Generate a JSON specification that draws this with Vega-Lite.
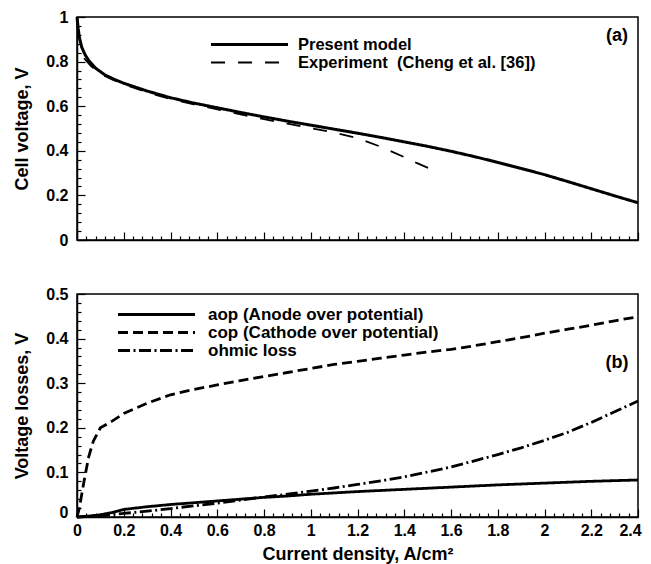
{
  "$schema": "https://vega.github.io/schema/vega-lite/v6.json",
  "background": "white",
  "padding": {"left": 13, "top": 8, "right": 4, "bottom": 0},
  "spacing": 36,
  "resolve": {"scale": {"strokeDash": "independent", "strokeWidth": "independent"}, "legend": {"strokeDash": "independent", "strokeWidth": "independent"}},
  "config": {
    "font": "Liberation Sans",
    "view": {"stroke": "black", "strokeWidth": 1.5},
    "axis": {
      "domainColor": "black", "domainWidth": 1.5, "tickColor": "black", "tickWidth": 1.2,
      "labelColor": "black", "labelFont": "Liberation Sans", "labelFontWeight": "bold", "labelFontSize": 16,
      "titleColor": "black", "titleFont": "Liberation Sans", "titleFontWeight": "bold", "titleFontSize": 18,
      "grid": false, "labelOverlap": false, "labelBound": false, "labelFlush": false, "tickCount": 200
    },
    "axisY": {"labelPadding": 17, "titlePadding": 14},
    "axisX": {"labelPadding": 13, "titlePadding": 3},
    "legend": {
      "labelFont": "Liberation Sans", "labelFontWeight": "bold", "labelFontSize": 16.5, "labelColor": "black", "labelLimit": 400,
      "symbolType": "M-5,0H5", "symbolStrokeColor": "black", "symbolSize": 237, "padding": 0
    }
  },
  "datasets": {
    "perf": [
      {"current": 0, "voltage": 1.0, "series": "Present model"},
      {"current": 0.005, "voltage": 0.95, "series": "Present model"},
      {"current": 0.01, "voltage": 0.91, "series": "Present model"},
      {"current": 0.02, "voltage": 0.865, "series": "Present model"},
      {"current": 0.035, "voltage": 0.83, "series": "Present model"},
      {"current": 0.05, "voltage": 0.805, "series": "Present model"},
      {"current": 0.08, "voltage": 0.77, "series": "Present model"},
      {"current": 0.12, "voltage": 0.74, "series": "Present model"},
      {"current": 0.16, "voltage": 0.72, "series": "Present model"},
      {"current": 0.2, "voltage": 0.703, "series": "Present model"},
      {"current": 0.3, "voltage": 0.668, "series": "Present model"},
      {"current": 0.4, "voltage": 0.638, "series": "Present model"},
      {"current": 0.5, "voltage": 0.614, "series": "Present model"},
      {"current": 0.6, "voltage": 0.593, "series": "Present model"},
      {"current": 0.7, "voltage": 0.572, "series": "Present model"},
      {"current": 0.8, "voltage": 0.552, "series": "Present model"},
      {"current": 0.9, "voltage": 0.533, "series": "Present model"},
      {"current": 1.0, "voltage": 0.515, "series": "Present model"},
      {"current": 1.1, "voltage": 0.497, "series": "Present model"},
      {"current": 1.2, "voltage": 0.479, "series": "Present model"},
      {"current": 1.3, "voltage": 0.46, "series": "Present model"},
      {"current": 1.4, "voltage": 0.44, "series": "Present model"},
      {"current": 1.5, "voltage": 0.42, "series": "Present model"},
      {"current": 1.6, "voltage": 0.398, "series": "Present model"},
      {"current": 1.7, "voltage": 0.374, "series": "Present model"},
      {"current": 1.8, "voltage": 0.348, "series": "Present model"},
      {"current": 1.9, "voltage": 0.321, "series": "Present model"},
      {"current": 2.0, "voltage": 0.293, "series": "Present model"},
      {"current": 2.1, "voltage": 0.262, "series": "Present model"},
      {"current": 2.2, "voltage": 0.23, "series": "Present model"},
      {"current": 2.3, "voltage": 0.198, "series": "Present model"},
      {"current": 2.4, "voltage": 0.167, "series": "Present model"},
      {"current": 0.03, "voltage": 0.815, "series": "Experiment \u00a0(Cheng et al. [36])"},
      {"current": 0.06, "voltage": 0.78, "series": "Experiment \u00a0(Cheng et al. [36])"},
      {"current": 0.1, "voltage": 0.745, "series": "Experiment \u00a0(Cheng et al. [36])"},
      {"current": 0.15, "voltage": 0.72, "series": "Experiment \u00a0(Cheng et al. [36])"},
      {"current": 0.2, "voltage": 0.698, "series": "Experiment \u00a0(Cheng et al. [36])"},
      {"current": 0.3, "voltage": 0.662, "series": "Experiment \u00a0(Cheng et al. [36])"},
      {"current": 0.4, "voltage": 0.632, "series": "Experiment \u00a0(Cheng et al. [36])"},
      {"current": 0.5, "voltage": 0.608, "series": "Experiment \u00a0(Cheng et al. [36])"},
      {"current": 0.6, "voltage": 0.586, "series": "Experiment \u00a0(Cheng et al. [36])"},
      {"current": 0.7, "voltage": 0.563, "series": "Experiment \u00a0(Cheng et al. [36])"},
      {"current": 0.8, "voltage": 0.542, "series": "Experiment \u00a0(Cheng et al. [36])"},
      {"current": 0.9, "voltage": 0.522, "series": "Experiment \u00a0(Cheng et al. [36])"},
      {"current": 1.0, "voltage": 0.502, "series": "Experiment \u00a0(Cheng et al. [36])"},
      {"current": 1.1, "voltage": 0.482, "series": "Experiment \u00a0(Cheng et al. [36])"},
      {"current": 1.2, "voltage": 0.457, "series": "Experiment \u00a0(Cheng et al. [36])"},
      {"current": 1.3, "voltage": 0.418, "series": "Experiment \u00a0(Cheng et al. [36])"},
      {"current": 1.4, "voltage": 0.372, "series": "Experiment \u00a0(Cheng et al. [36])"},
      {"current": 1.45, "voltage": 0.347, "series": "Experiment \u00a0(Cheng et al. [36])"},
      {"current": 1.52, "voltage": 0.315, "series": "Experiment \u00a0(Cheng et al. [36])"}
    ],
    "loss": [
      {"current": 0, "loss": 0, "series": "aop (Anode over potential)"},
      {"current": 0.05, "loss": 0.002, "series": "aop (Anode over potential)"},
      {"current": 0.1, "loss": 0.005, "series": "aop (Anode over potential)"},
      {"current": 0.15, "loss": 0.01, "series": "aop (Anode over potential)"},
      {"current": 0.2, "loss": 0.017, "series": "aop (Anode over potential)"},
      {"current": 0.3, "loss": 0.023, "series": "aop (Anode over potential)"},
      {"current": 0.4, "loss": 0.028, "series": "aop (Anode over potential)"},
      {"current": 0.5, "loss": 0.032, "series": "aop (Anode over potential)"},
      {"current": 0.6, "loss": 0.036, "series": "aop (Anode over potential)"},
      {"current": 0.7, "loss": 0.04, "series": "aop (Anode over potential)"},
      {"current": 0.8, "loss": 0.044, "series": "aop (Anode over potential)"},
      {"current": 0.9, "loss": 0.047, "series": "aop (Anode over potential)"},
      {"current": 1.0, "loss": 0.051, "series": "aop (Anode over potential)"},
      {"current": 1.2, "loss": 0.057, "series": "aop (Anode over potential)"},
      {"current": 1.4, "loss": 0.062, "series": "aop (Anode over potential)"},
      {"current": 1.6, "loss": 0.067, "series": "aop (Anode over potential)"},
      {"current": 1.8, "loss": 0.072, "series": "aop (Anode over potential)"},
      {"current": 2.0, "loss": 0.076, "series": "aop (Anode over potential)"},
      {"current": 2.2, "loss": 0.08, "series": "aop (Anode over potential)"},
      {"current": 2.4, "loss": 0.083, "series": "aop (Anode over potential)"},
      {"current": 0, "loss": 0, "series": "cop (Cathode over potential)"},
      {"current": 0.01, "loss": 0.02, "series": "cop (Cathode over potential)"},
      {"current": 0.03, "loss": 0.08, "series": "cop (Cathode over potential)"},
      {"current": 0.05, "loss": 0.135, "series": "cop (Cathode over potential)"},
      {"current": 0.07, "loss": 0.17, "series": "cop (Cathode over potential)"},
      {"current": 0.1, "loss": 0.2, "series": "cop (Cathode over potential)"},
      {"current": 0.15, "loss": 0.215, "series": "cop (Cathode over potential)"},
      {"current": 0.2, "loss": 0.232, "series": "cop (Cathode over potential)"},
      {"current": 0.3, "loss": 0.255, "series": "cop (Cathode over potential)"},
      {"current": 0.4, "loss": 0.274, "series": "cop (Cathode over potential)"},
      {"current": 0.5, "loss": 0.286, "series": "cop (Cathode over potential)"},
      {"current": 0.6, "loss": 0.296, "series": "cop (Cathode over potential)"},
      {"current": 0.7, "loss": 0.306, "series": "cop (Cathode over potential)"},
      {"current": 0.8, "loss": 0.315, "series": "cop (Cathode over potential)"},
      {"current": 0.9, "loss": 0.324, "series": "cop (Cathode over potential)"},
      {"current": 1.0, "loss": 0.333, "series": "cop (Cathode over potential)"},
      {"current": 1.1, "loss": 0.342, "series": "cop (Cathode over potential)"},
      {"current": 1.2, "loss": 0.349, "series": "cop (Cathode over potential)"},
      {"current": 1.3, "loss": 0.356, "series": "cop (Cathode over potential)"},
      {"current": 1.4, "loss": 0.363, "series": "cop (Cathode over potential)"},
      {"current": 1.5, "loss": 0.37, "series": "cop (Cathode over potential)"},
      {"current": 1.6, "loss": 0.376, "series": "cop (Cathode over potential)"},
      {"current": 1.7, "loss": 0.384, "series": "cop (Cathode over potential)"},
      {"current": 1.8, "loss": 0.393, "series": "cop (Cathode over potential)"},
      {"current": 1.9, "loss": 0.402, "series": "cop (Cathode over potential)"},
      {"current": 2.0, "loss": 0.412, "series": "cop (Cathode over potential)"},
      {"current": 2.1, "loss": 0.421, "series": "cop (Cathode over potential)"},
      {"current": 2.2, "loss": 0.43, "series": "cop (Cathode over potential)"},
      {"current": 2.3, "loss": 0.44, "series": "cop (Cathode over potential)"},
      {"current": 2.4, "loss": 0.449, "series": "cop (Cathode over potential)"},
      {"current": 0, "loss": 0, "series": "ohmic loss"},
      {"current": 0.1, "loss": 0.003, "series": "ohmic loss"},
      {"current": 0.2, "loss": 0.008, "series": "ohmic loss"},
      {"current": 0.3, "loss": 0.013, "series": "ohmic loss"},
      {"current": 0.4, "loss": 0.019, "series": "ohmic loss"},
      {"current": 0.5, "loss": 0.025, "series": "ohmic loss"},
      {"current": 0.6, "loss": 0.031, "series": "ohmic loss"},
      {"current": 0.7, "loss": 0.038, "series": "ohmic loss"},
      {"current": 0.8, "loss": 0.045, "series": "ohmic loss"},
      {"current": 0.9, "loss": 0.051, "series": "ohmic loss"},
      {"current": 1.0, "loss": 0.058, "series": "ohmic loss"},
      {"current": 1.1, "loss": 0.065, "series": "ohmic loss"},
      {"current": 1.2, "loss": 0.073, "series": "ohmic loss"},
      {"current": 1.3, "loss": 0.081, "series": "ohmic loss"},
      {"current": 1.4, "loss": 0.09, "series": "ohmic loss"},
      {"current": 1.5, "loss": 0.101, "series": "ohmic loss"},
      {"current": 1.6, "loss": 0.112, "series": "ohmic loss"},
      {"current": 1.7, "loss": 0.126, "series": "ohmic loss"},
      {"current": 1.8, "loss": 0.14, "series": "ohmic loss"},
      {"current": 1.9, "loss": 0.155, "series": "ohmic loss"},
      {"current": 2.0, "loss": 0.172, "series": "ohmic loss"},
      {"current": 2.1, "loss": 0.19, "series": "ohmic loss"},
      {"current": 2.2, "loss": 0.212, "series": "ohmic loss"},
      {"current": 2.3, "loss": 0.236, "series": "ohmic loss"},
      {"current": 2.4, "loss": 0.26, "series": "ohmic loss"}
    ]
  },
  "vconcat": [
    {
      "width": 561,
      "height": 223,
      "layer": [
        {
          "data": {"name": "perf"},
          "mark": {"type": "line", "color": "black"},
          "encoding": {
            "x": {
              "field": "current", "type": "quantitative",
              "scale": {"domain": [0, 2.4], "nice": false, "zero": false},
              "axis": {
                "title": null, "labels": false, "tickCount": 200,
                "values": [0,0.04,0.08,0.12,0.16,0.2,0.24,0.28,0.32,0.36,0.4,0.44,0.48,0.52,0.56,0.6,0.64,0.68,0.72,0.76,0.8,0.84,0.88,0.92,0.96,1,1.04,1.08,1.12,1.16,1.2,1.24,1.28,1.32,1.36,1.4,1.44,1.48,1.52,1.56,1.6,1.64,1.68,1.72,1.76,1.8,1.84,1.88,1.92,1.96,2,2.04,2.08,2.12,2.16,2.2,2.24,2.28,2.32,2.36,2.4],
                "tickSize": {"condition": {"test": "abs(datum.value*5 - round(datum.value*5)) < 0.001", "value": -8}, "value": -4}
              }
            },
            "y": {
              "field": "voltage", "type": "quantitative",
              "scale": {"domain": [0, 1], "nice": false},
              "axis": {
                "title": "Cell voltage, V", "tickCount": 200,
                "values": [0,0.04,0.08,0.12,0.16,0.2,0.24,0.28,0.32,0.36,0.4,0.44,0.48,0.52,0.56,0.6,0.64,0.68,0.72,0.76,0.8,0.84,0.88,0.92,0.96,1],
                "labelExpr": "abs(datum.value*5 - round(datum.value*5)) < 0.001 ? format(datum.value, '~g') : ''",
                "tickSize": {"condition": {"test": "abs(datum.value*5 - round(datum.value*5)) < 0.001", "value": -8}, "value": -4}
              }
            },
            "strokeDash": {
              "field": "series", "type": "nominal",
              "scale": {"domain": ["Present model", "Experiment \u00a0(Cheng et al. [36])"], "range": [[1, 0], [14, 13]]},
              "legend": {"title": null, "orient": "none", "legendX": 163, "legendY": 18, "rowPadding": 0.5, "labelOffset": 39}
            },
            "strokeWidth": {
              "field": "series", "type": "nominal",
              "scale": {"domain": ["Present model", "Experiment \u00a0(Cheng et al. [36])"], "range": [3, 1.8]},
              "legend": {"title": null, "orient": "none", "legendX": 163, "legendY": 18, "rowPadding": 0.5, "labelOffset": 39}
            }
          }
        },
        {
          "data": {"values": [{"current": 2.31, "voltage": 0.915, "label": "(a)"}]},
          "mark": {"type": "text", "font": "Liberation Sans", "fontSize": 18, "fontWeight": "bold", "color": "black"},
          "encoding": {
            "x": {"field": "current", "type": "quantitative"},
            "y": {"field": "voltage", "type": "quantitative"},
            "text": {"field": "label"}
          }
        }
      ]
    },
    {
      "width": 561,
      "height": 223,
      "layer": [
        {
          "data": {"name": "loss"},
          "mark": {"type": "line", "color": "black", "strokeWidth": 2.8},
          "encoding": {
            "x": {
              "field": "current", "type": "quantitative",
              "scale": {"domain": [0, 2.4], "nice": false, "zero": false},
              "axis": {
                "title": "Current density, A/cm²", "tickCount": 200,
                "values": [0,0.04,0.08,0.12,0.16,0.2,0.24,0.28,0.32,0.36,0.4,0.44,0.48,0.52,0.56,0.6,0.64,0.68,0.72,0.76,0.8,0.84,0.88,0.92,0.96,1,1.04,1.08,1.12,1.16,1.2,1.24,1.28,1.32,1.36,1.4,1.44,1.48,1.52,1.56,1.6,1.64,1.68,1.72,1.76,1.8,1.84,1.88,1.92,1.96,2,2.04,2.08,2.12,2.16,2.2,2.24,2.28,2.32,2.36,2.4],
                "labelExpr": "abs(datum.value*5 - round(datum.value*5)) < 0.001 ? format(datum.value, '~g') : ''",
                "labelOffset": {"condition": {"test": "datum.value > 2.39", "value": -8}, "value": 0},
                "tickSize": {"condition": {"test": "abs(datum.value*5 - round(datum.value*5)) < 0.001", "value": -8}, "value": -4}
              }
            },
            "y": {
              "field": "loss", "type": "quantitative",
              "scale": {"domain": [0, 0.5], "nice": false},
              "axis": {
                "title": "Voltage losses, V", "tickCount": 200,
                "values": [0,0.02,0.04,0.06,0.08,0.1,0.12,0.14,0.16,0.18,0.2,0.22,0.24,0.26,0.28,0.3,0.32,0.34,0.36,0.38,0.4,0.42,0.44,0.46,0.48,0.5],
                "labelExpr": "abs(datum.value*10 - round(datum.value*10)) < 0.001 ? format(datum.value, '~g') : ''",
                "labelOffset": {"condition": {"test": "datum.value < 0.001", "value": -5}, "value": 0},
                "tickSize": {"condition": {"test": "abs(datum.value*10 - round(datum.value*10)) < 0.001", "value": -8}, "value": -4}
              }
            },
            "strokeDash": {
              "field": "series", "type": "nominal",
              "scale": {"domain": ["aop (Anode over potential)", "cop (Cathode over potential)", "ohmic loss"], "range": [[1, 0], [10, 5], [12, 3.5, 2, 3.5]]},
              "legend": {"title": null, "orient": "none", "legendX": 70, "legendY": 11, "symbolStrokeWidth": 2.8, "rowPadding": -0.5, "labelOffset": 42, "labelFontSize": 17}
            }
          }
        },
        {
          "data": {"values": [{"current": 2.31, "loss": 0.345, "label": "(b)"}]},
          "mark": {"type": "text", "font": "Liberation Sans", "fontSize": 18, "fontWeight": "bold", "color": "black"},
          "encoding": {
            "x": {"field": "current", "type": "quantitative"},
            "y": {"field": "loss", "type": "quantitative"},
            "text": {"field": "label"}
          }
        }
      ]
    }
  ]
}
